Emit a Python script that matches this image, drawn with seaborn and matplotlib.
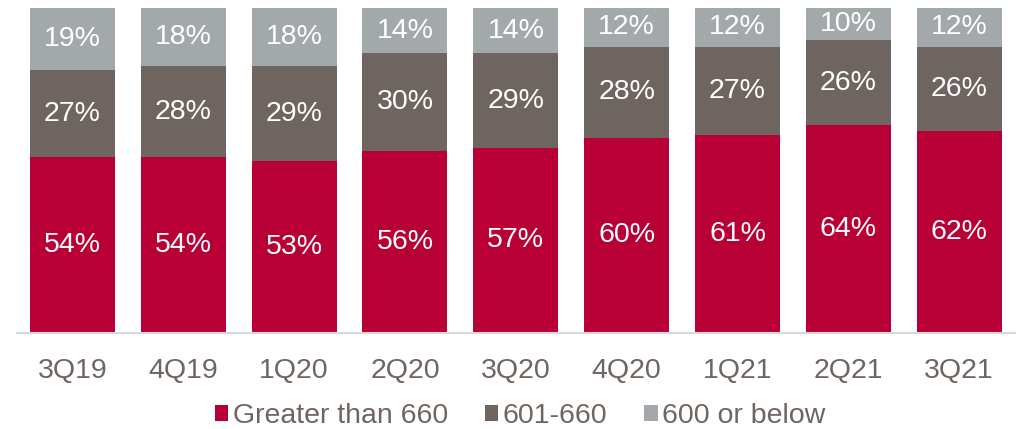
import numpy as np
import pandas as pd
import seaborn as sns
import matplotlib.pyplot as plt
from matplotlib.patches import Patch

quarters = ['3Q19', '4Q19', '1Q20', '2Q20', '3Q20', '4Q20', '1Q21', '2Q21', '3Q21']
above_660 = [54, 54, 53, 56, 57, 60, 61, 64, 62]
mid_601_660 = [27, 28, 29, 30, 29, 28, 27, 26, 26]
below_600 = [19, 18, 18, 14, 14, 12, 12, 10, 12]

series_names = ['Greater than 660', '601-660', '600 or below']
series_values = [above_660, mid_601_660, below_600]
colors = ['#B80037', '#6E6560', '#A3A8AA']
text_grey = '#6E6560'

sns.set_theme(style='white')
plt.rcParams['font.family'] = ['Liberation Sans', 'DejaVu Sans']

fig = plt.figure(figsize=(10.2, 4.29), dpi=100)
ax = fig.add_axes([0.0167, 0.2238, 0.978, 0.7576])

# Stack the three series on top of each other
bottom = np.zeros(len(quarters))
for name, vals, col in zip(series_names, series_values, colors):
    df = pd.DataFrame({'quarter': quarters, 'pct': vals})
    sns.barplot(data=df, x='quarter', y='pct', color=col, width=0.767,
                bottom=bottom, ax=ax, saturation=1, linewidth=0)
    bottom = bottom + np.array(vals)

for cont in ax.containers:
    ax.bar_label(cont, labels=[f'{int(b.get_height())}%' for b in cont],
                 label_type='center', color='white', fontsize=20.5)

ax.set_xlim(-0.5, len(quarters) - 0.5)
ax.set_ylim(0, 100)
ax.set_xlabel('')
ax.set_ylabel('')
ax.set_yticks([])
ax.tick_params(axis='x', length=0, pad=18, labelsize=20.5, labelcolor=text_grey)
for side in ['top', 'left', 'right']:
    ax.spines[side].set_visible(False)
ax.spines['bottom'].set_color('#D9D9D9')
ax.spines['bottom'].set_linewidth(1.5)

handles = [Patch(facecolor=c, edgecolor='none') for c in colors]
fig.legend(handles, series_names, loc='center', bbox_to_anchor=(0.51, 0.03),
           ncol=3, frameon=False, fontsize=20.5, handlelength=0.47, handleheight=0.47,
           handletextpad=0.15, columnspacing=1.3, labelcolor=text_grey)

fig.savefig('out.png', dpi=100)
